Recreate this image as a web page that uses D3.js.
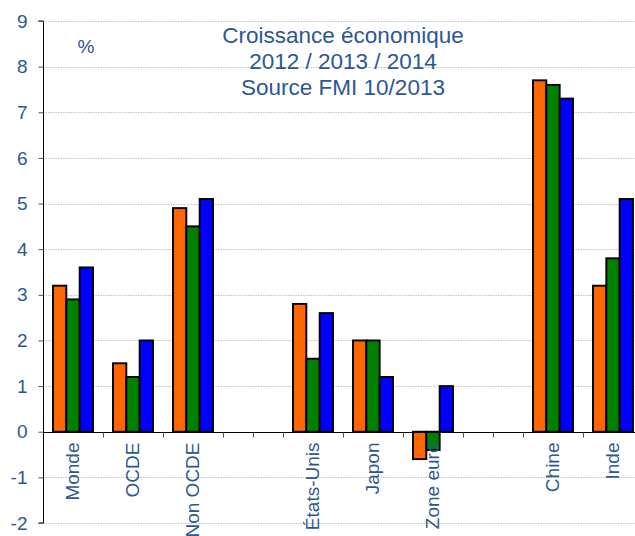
<!DOCTYPE html>
<html>
<head>
<meta charset="utf-8">
<script src="https://cdn.jsdelivr.net/npm/d3@7"></script>
<style>
  html, body { margin: 0; padding: 0; background: #fff; overflow: hidden; }
  svg { display: block; font-family: "Liberation Sans", Arial, sans-serif; }
</style>
</head>
<body>
<svg id="chart" width="635" height="536"></svg>
<script>
// Categories along the x axis; null marks an empty spacer slot between groups
const categories = ["Monde", "OCDE", "Non OCDE", null, "États-Unis", "Japon", "Zone euro", null, "Chine", "Inde"];
const seriesNames = ["2012", "2013", "2014"];
const growth2012 = [3.2, 1.5, 4.9, null, 2.8, 2.0, -0.6, null, 7.7, 3.2];
const growth2013 = [2.9, 1.2, 4.5, null, 1.6, 2.0, -0.4, null, 7.6, 3.8];
const growth2014 = [3.6, 2.0, 5.1, null, 2.6, 1.2, 1.0, null, 7.3, 5.1];
const seriesColors = ["#FF6600", "#008000", "#0000FF"];
const yTicks = [-2, -1, 0, 1, 2, 3, 4, 5, 6, 7, 8, 9];
const titleLines = ["Croissance économique", "2012 / 2013 / 2014", "Source FMI 10/2013"];
const unitLabel = "%";

const textColor = "#2C5793";
const svg = d3.select("#chart");

const margin = { left: 43, top: 21, bottom: 523 };
const x = d3.scaleBand()
  .domain(d3.range(categories.length))
  .range([margin.left, margin.left + 60 * categories.length])
  .padding(0);
const xSub = d3.scaleBand()
  .domain(seriesNames)
  .range([x.bandwidth() / 6, x.bandwidth() * 5 / 6])
  .padding(0);
const y = d3.scaleLinear().domain([-2, 9]).range([margin.bottom, margin.top]);

// Horizontal dotted gridlines
svg.append("g")
  .selectAll("line")
  .data(yTicks)
  .join("line")
  .attr("x1", margin.left)
  .attr("x2", 635)
  .attr("y1", d => Math.round(y(d)) + 0.5)
  .attr("y2", d => Math.round(y(d)) + 0.5)
  .attr("stroke", "#c4c4c4")
  .attr("stroke-width", 1)
  .attr("stroke-dasharray", "1.5,1");

// Bars
const allSeries = [growth2012, growth2013, growth2014];
const barData = [];
categories.forEach((c, i) => {
  if (c === null) return;
  allSeries.forEach((s, k) => {
    barData.push({ i, key: seriesNames[k], value: s[i], color: seriesColors[k] });
  });
});

svg.append("g")
  .selectAll("rect")
  .data(barData)
  .join("rect")
  .attr("x", d => x(d.i) + xSub(d.key))
  .attr("width", xSub.bandwidth())
  .attr("y", d => y(Math.max(0, d.value)))
  .attr("height", d => Math.abs(y(d.value) - y(0)))
  .attr("fill", d => d.color)
  .attr("stroke", "#000")
  .attr("stroke-width", 1.9);

// Y axis (plain hyphen for negatives)
const yAxis = d3.axisLeft(y)
  .tickValues(yTicks)
  .tickSize(5)
  .tickPadding(11)
  .tickFormat(d => String(d));
const gy = svg.append("g")
  .attr("transform", `translate(${margin.left + 0.5},0)`)
  .call(yAxis);
gy.select(".domain").attr("stroke", "#000").attr("d", `M-5,${y(9)}H0V${y(-2)}H-5`);
gy.selectAll(".tick line").attr("stroke", "#555");
gy.selectAll(".tick text")
  .attr("fill", textColor)
  .style("font-size", "19px");

// X axis along zero: boundary ticks plus a tick in the middle of each spacer slot
const zeroY = Math.round(y(0)) + 0.5;
const boundaryTicks = d3.range(1, categories.length + 1).map(i => margin.left + i * x.step());
const spacerTicks = categories.map((c, i) => c === null ? x(i) + x.bandwidth() / 2 : null).filter(v => v !== null);
const gx = svg.append("g");
gx.append("line")
  .attr("x1", margin.left)
  .attr("x2", 635)
  .attr("y1", zeroY)
  .attr("y2", zeroY)
  .attr("stroke", "#000")
  .attr("stroke-width", 1.2);
gx.selectAll("line.tick")
  .data(boundaryTicks.concat(spacerTicks))
  .join("line")
  .attr("class", "tick")
  .attr("x1", d => Math.round(d) + 0.5)
  .attr("x2", d => Math.round(d) + 0.5)
  .attr("y1", zeroY)
  .attr("y2", zeroY + 5)
  .attr("stroke", "#555");

// Rotated category labels, reading bottom to top
gx.selectAll("text")
  .data(categories.map((c, i) => ({ c, i })).filter(d => d.c !== null))
  .join("text")
  .attr("transform", d => `translate(${x(d.i) + x.bandwidth() / 2 + 6},${zeroY + 10}) rotate(-90)`)
  .attr("text-anchor", "end")
  .attr("fill", textColor)
  .style("font-size", "19px")
  .text(d => d.c);

// Title block
svg.append("text")
  .attr("x", 343)
  .attr("y", 43)
  .attr("text-anchor", "middle")
  .attr("fill", textColor)
  .style("font-size", "22.5px")
  .selectAll("tspan")
  .data(titleLines)
  .join("tspan")
  .attr("x", 343)
  .attr("dy", (d, i) => i === 0 ? 0 : 26)
  .text(d => d);

// Unit label
svg.append("text")
  .attr("x", 86)
  .attr("y", 53)
  .attr("text-anchor", "middle")
  .attr("fill", textColor)
  .style("font-size", "19px")
  .text(unitLabel);
</script>
</body>
</html>
